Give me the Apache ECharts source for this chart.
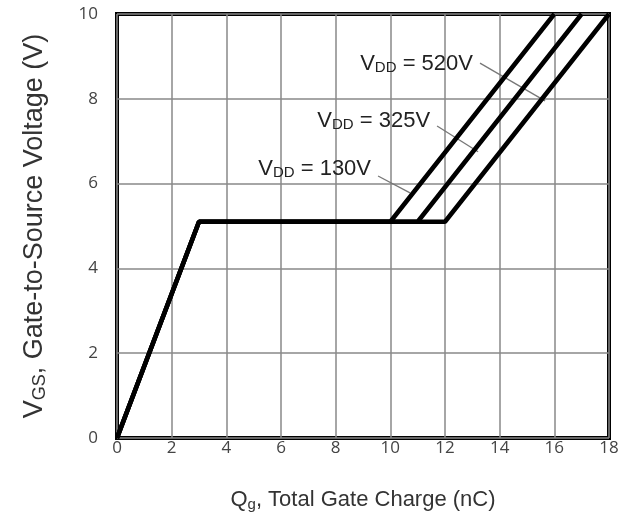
<!DOCTYPE html>
<html><head><meta charset="utf-8">
<script src="https://cdn.jsdelivr.net/npm/echarts@6/dist/echarts.min.js"></script>
<style>html,body{margin:0;padding:0;background:#fff}#c{width:638px;height:529px}</style>
</head><body><div id="c"></div>
<script>
// Gate charge curves: [Qg (nC), VGS (V)]
const curve130 = [[0,0],[3,5.1],[10,5.1],[16,10]];
const curve325 = [[0,0],[3,5.1],[11,5.1],[17,10]];
const curve520 = [[0,0],[3,5.1],[12,5.1],[18,10]];
// Annotation leader lines (data coords)
const leader520 = [[13.28,8.84],[15.66,7.95]];
const leader325 = [[11.71,7.36],[13.21,6.75]];
const leader130 = [[9.55,6.18],[10.72,5.78]];
const labelVdd = ['520V','325V','130V'];
const xTicks = [0,2,4,6,8,10,12,14,16,18];
const yTicks = [0,2,4,6,8,10];

const chart = echarts.init(document.getElementById('c'));
const lineStyleMain = {color:'#000', width:4.5};
function mainSeries(d){return {type:'line', data:d, symbol:'none', lineStyle:lineStyleMain, z:5, animation:false};}
function leader(d, txt, dy){
  return {type:'line', data:d, symbol:'none', lineStyle:{color:'#777', width:1.3}, z:4, animation:false,
    markPoint:{symbol:'rect', symbolSize:0, data:[{coord:d[0]}],
      label:{show:true, position:'left', distance:7, offset:[0,dy],
        formatter:'{v|V}{s|DD}{v| = '+txt+'}',
        rich:{v:{fontFamily:'Liberation Sans', fontSize:22, color:'#222'},
              s:{fontFamily:'Liberation Sans', fontSize:15, color:'#222', padding:[8,0,0,0]}}}}};
}
chart.setOption({
  animation:false,
  grid:{left:117, right:29, top:14, bottom:91, show:true, borderColor:'#000', borderWidth:4, backgroundColor:'#fff'},
  xAxis:{type:'value', min:0, max:18, interval:2,
    name:'{v|Q}{s|g}{v|, Total Gate Charge (nC)}', nameLocation:'middle', nameGap:49,
    nameTextStyle:{rich:{v:{fontFamily:'Liberation Sans', fontSize:22, color:'#333'},
                         s:{fontFamily:'Liberation Sans', fontSize:15, color:'#333', padding:[10,0,0,0]}}},
    axisLine:{show:false}, axisTick:{show:false},
    axisLabel:{fontFamily:'Open Sans', fontSize:17, color:'#444', margin:2,
      formatter:v=>xTicks.includes(v)?String(v):''},
    splitLine:{show:true, lineStyle:{color:'#888', width:1.5}}},
  yAxis:{type:'value', min:0, max:10, interval:2,
    name:'{v|V}{s|GS}{v|, Gate-to-Source Voltage (V)}', nameLocation:'middle', nameGap:68,
    nameTextStyle:{rich:{v:{fontFamily:'Liberation Sans', fontSize:27, color:'#333'},
                         s:{fontFamily:'Liberation Sans', fontSize:18, color:'#333', padding:[10,0,0,0]}}},
    axisLine:{show:false}, axisTick:{show:false},
    axisLabel:{fontFamily:'Open Sans', fontSize:17, color:'#444', margin:19,
      formatter:v=>yTicks.includes(v)?String(v):''},
    splitLine:{show:true, lineStyle:{color:'#888', width:1.5}}},
  series:[
    mainSeries(curve130), mainSeries(curve325), mainSeries(curve520),
    leader(leader520, labelVdd[0], 1), leader(leader325, labelVdd[1], -5), leader(leader130, labelVdd[2], -7)
  ]
});
</script></body></html>
